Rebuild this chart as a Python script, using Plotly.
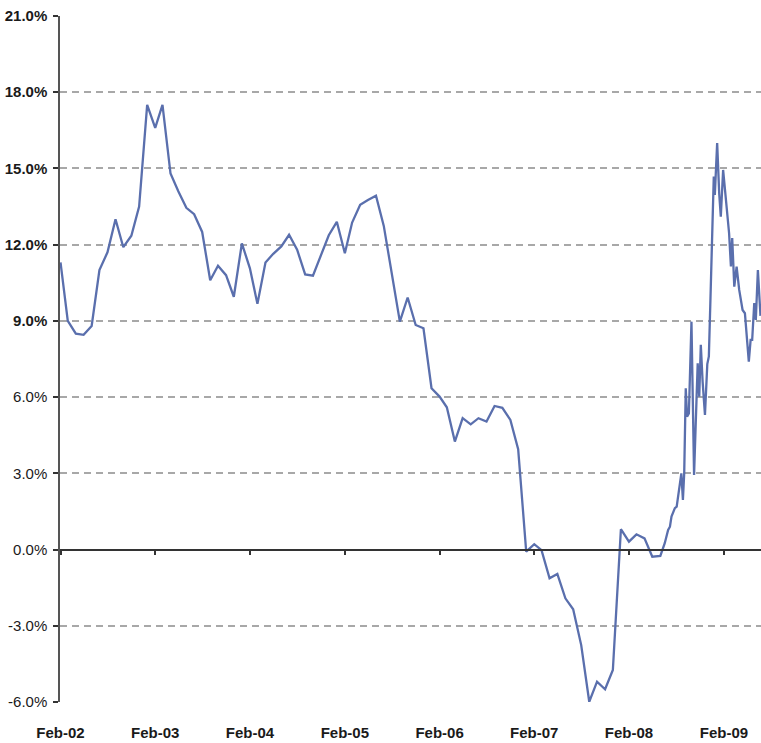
import pandas as pd
import plotly.graph_objects as go

# Monthly values, Feb-2002 .. Jun-2008 (%)
monthly_vals = [
    11.3, 9.0, 8.5, 8.45, 8.8, 11.0, 11.7, 13.0, 11.9, 12.35, 13.5,          # 2002 Feb-Dec
    17.5, 16.6, 17.5, 14.8, 14.1, 13.45, 13.2, 12.5, 10.6, 11.17, 10.8, 9.95,  # 2003
    12.05, 11.07, 9.67, 11.3, 11.64, 11.93, 12.39, 11.8, 10.83, 10.78, 11.58, 12.37,  # 2004
    12.9, 11.66, 12.87, 13.57, 13.76, 13.93, 12.74, 10.88, 8.97, 9.92, 8.84, 8.71,  # 2005
    6.35, 6.02, 5.6, 4.25, 5.17, 4.93, 5.17, 5.04, 5.65, 5.58, 5.1, 3.95,   # 2006
    -0.08, 0.21, -0.02, -1.13, -0.96, -1.92, -2.35, -3.76, -5.99, -5.2, -5.5, -4.74,  # 2007
    0.8, 0.31, 0.6, 0.44, -0.28, -0.25,                                        # 2008 Jan-Jun
]
monthly_dates = pd.date_range("2002-02-01", periods=len(monthly_vals), freq="MS")

# Weekly values, mid-2008 .. mid-2009 (%)
weekly_dates = [
    "2008-06-18", "2008-07-01", "2008-07-08", "2008-07-14", "2008-07-20", "2008-07-27",
    "2008-08-03", "2008-08-09", "2008-08-15", "2008-08-21", "2008-08-27", "2008-09-01",
    "2008-09-07", "2008-09-12", "2008-09-19", "2008-09-29", "2008-10-09", "2008-10-19",
    "2008-10-23", "2008-10-29", "2008-11-04", "2008-11-11", "2008-11-20", "2008-11-29",
    "2008-12-05", "2008-12-11", "2008-12-19", "2008-12-24", "2008-12-28", "2009-01-06",
    "2009-01-14", "2009-01-20", "2009-01-29", "2009-02-11", "2009-02-21", "2009-02-28",
    "2009-03-05", "2009-03-13", "2009-03-22", "2009-04-01", "2009-04-14", "2009-04-23",
    "2009-05-02", "2009-05-08", "2009-05-15", "2009-05-21", "2009-05-29", "2009-06-04",
    "2009-06-12", "2009-06-22",
]
weekly_vals = [
    0.25, 0.77, 0.9, 1.3, 1.43, 1.63,
    1.69, 2.15, 2.67, 3.0, 1.95, 3.0,
    6.35, 5.23, 5.36, 8.97, 2.94, 5.89,
    7.33, 6.02, 8.06, 6.6, 5.3, 7.3,
    7.6, 9.8, 13.1, 14.68, 13.96, 16.0,
    14.0, 13.1, 14.94, 13.5, 12.45, 11.14,
    12.26, 10.35, 11.14, 10.22, 9.43, 9.3,
    8.25, 7.4, 8.25, 8.25, 9.7, 9.04,
    11.0, 9.2,
]

x_all = list(monthly_dates.strftime("%Y-%m-%d")) + weekly_dates
y_all = monthly_vals + weekly_vals

y_ticks = [-6, -3, 0, 3, 6, 9, 12, 15, 18, 21]
y_ticktext = ["-6.0%", "-3.0%", "0.0%", "3.0%", "6.0%",
              "<b>9.0%</b>", "<b>12.0%</b>", "<b>15.0%</b>", "<b>18.0%</b>", "<b>21.0%</b>"]
x_ticks = ["2002-02-01", "2003-02-01", "2004-02-01", "2005-02-01",
           "2006-02-01", "2007-02-01", "2008-02-01", "2009-02-01"]
x_ticktext = ["<b>Feb-02</b>", "<b>Feb-03</b>", "<b>Feb-04</b>", "<b>Feb-05</b>",
              "<b>Feb-06</b>", "<b>Feb-07</b>", "<b>Feb-08</b>", "<b>Feb-09</b>"]

x_range = ["2002-01-30", "2009-06-24"]
y_range = [-6, 21]

fig = go.Figure()
fig.add_trace(go.Scatter(
    x=x_all, y=y_all, mode="lines",
    line=dict(color="#5a6fad", width=2.3),
    showlegend=False, hoverinfo="skip",
))
# invisible trace to carry the zero-crossing axis
fig.add_trace(go.Scatter(
    x=x_range, y=[0, 0], mode="lines", xaxis="x2",
    line=dict(color="rgba(0,0,0,0)", width=0), showlegend=False, hoverinfo="skip",
))

font_family = "Liberation Sans, Arial, sans-serif"

fig.update_layout(
    width=761, height=743,
    margin=dict(l=60, r=0, t=16, b=41),
    paper_bgcolor="white", plot_bgcolor="white",
    font=dict(family=font_family, color="#1a1a1a"),
    xaxis=dict(
        type="date", range=x_range, automargin=False,
        tickvals=x_ticks, ticktext=x_ticktext,
        tickfont=dict(size=15, family=font_family, color="#1a1a1a"),
        showgrid=False, zeroline=False, showline=False, ticks="",
        ticklabelstandoff=20,
    ),
    xaxis2=dict(
        type="date", range=x_range, overlaying="x", anchor="free", automargin=False,
        position=(0 - y_range[0]) / (y_range[1] - y_range[0]),
        side="bottom",
        tickvals=x_ticks, showticklabels=False,
        showgrid=False, zeroline=False,
        showline=True, linecolor="#333333", linewidth=1.5,
        ticks="outside", ticklen=5, tickwidth=1.5, tickcolor="#333333",
    ),
    yaxis=dict(
        range=y_range, tickvals=y_ticks, ticktext=y_ticktext, automargin=False,
        tickfont=dict(size=15, family=font_family, color="#1a1a1a"),
        showgrid=True, gridcolor="#a8a8a8", gridwidth=1.5, griddash="7px,5px",
        zeroline=False,
        showline=True, linecolor="#555555", linewidth=1.5,
        ticks="outside", ticklen=5, tickwidth=1.5, tickcolor="#333333",
        ticklabelstandoff=3,
    ),
)

# remove the page's default 8px body margin so the figure sits at the window origin
fig.write_html(
    "out.html",
    config={"displayModeBar": False},
    post_script="document.body.style.margin='0';document.body.style.overflow='hidden';",
)
